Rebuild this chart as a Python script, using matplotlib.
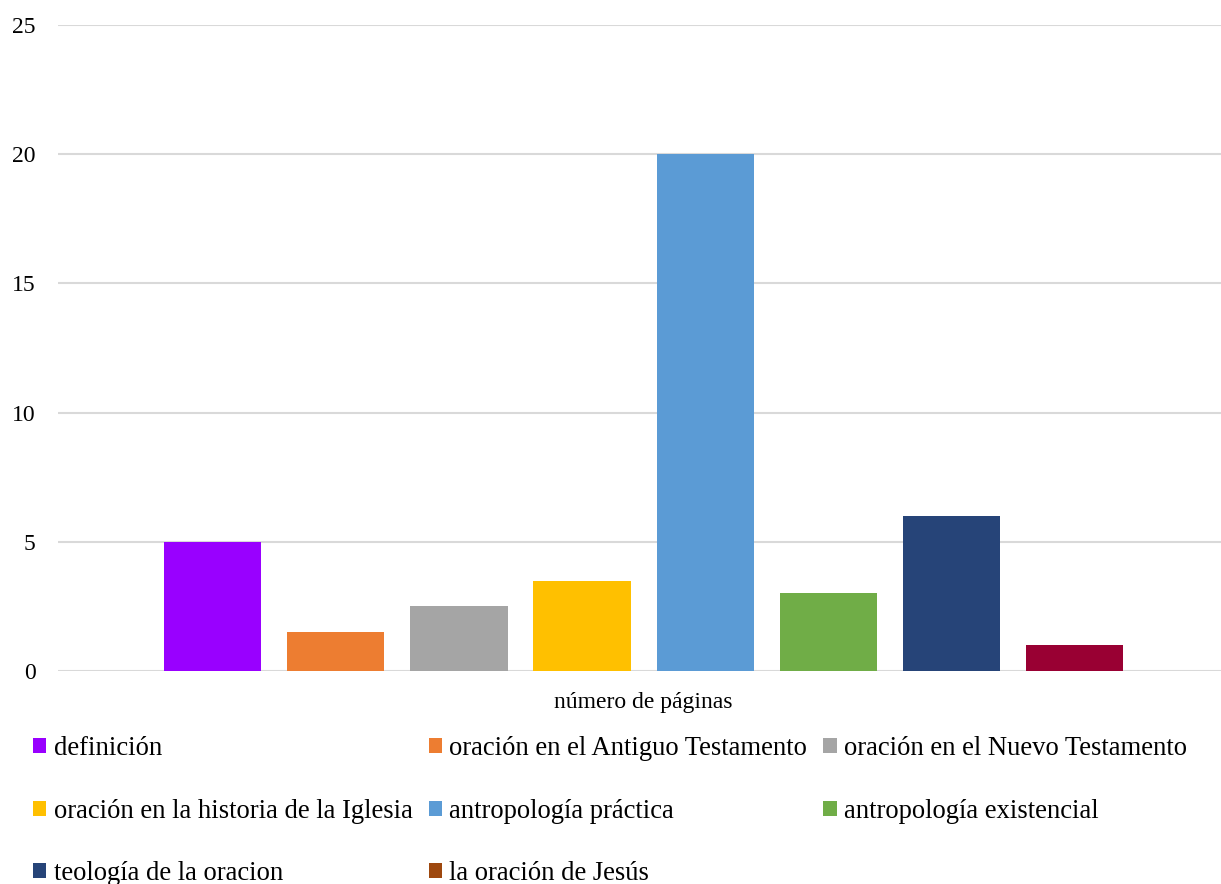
import matplotlib.pyplot as plt
from matplotlib.patches import Patch

categoria = "número de páginas"
series = ["definición", "oración en el Antiguo Testamento", "oración en el Nuevo Testamento",
          "oración en la historia de la Iglesia", "antropología práctica", "antropología existencial",
          "teología de la oracion", "la oración de Jesús"]
valores = [5, 1.5, 2.5, 3.5, 20, 3, 6, 1]
colores = ["#9900FF", "#ED7D31", "#A5A5A5", "#FFC000", "#5B9BD5", "#70AD47", "#264478", "#990033"]
colores_leyenda = colores[:-1] + ["#9E480E"]

plt.rcParams["font.family"] = ["Liberation Serif", "DejaVu Serif"]

fig = plt.figure(figsize=(12.21, 8.84), dpi=100)
ax = fig.add_axes([58 / 1221, 1 - 671 / 884, 1 - 58 / 1221, (671 - 25) / 884])

for i, (v, c) in enumerate(zip(valores, colores)):
    ax.bar(i, v, width=0.79, color=c, zorder=3)

ax.set_xlim(-1.257, 8.19)
ax.set_ylim(0, 25)
ax.set_yticks([0, 5, 10, 15, 20, 25])
ax.set_xticks([3.5])
ax.set_xticklabels([categoria])
ax.tick_params(axis="both", length=0)
ax.tick_params(axis="x", labelsize=17, pad=15)
ax.tick_params(axis="y", labelsize=17, pad=16)
ax.grid(axis="y", color="#D9D9D9", linewidth=1.5, zorder=0)
for s in ax.spines.values():
    s.set_visible(False)

handles = [Patch(facecolor=c, label=l) for c, l in zip(colores_leyenda, series)]
orden = [0, 3, 6, 1, 4, 7, 2, 5]
fig.legend([handles[i] for i in orden], [series[i] for i in orden], ncol=3,
           loc="upper left", bbox_to_anchor=(33 / 1221, 1 - 736 / 884), frameon=False,
           fontsize=19.2, handlelength=0.5, handleheight=0.5, handletextpad=0.28,
           labelspacing=1.41, columnspacing=0.6, borderpad=0, borderaxespad=0)

fig.savefig("out.png", dpi=100)
